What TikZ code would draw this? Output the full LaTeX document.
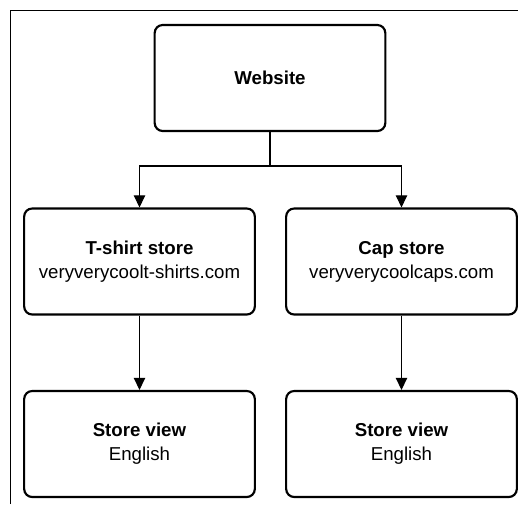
\documentclass[tikz,border=0pt]{standalone}
\usepackage{fontspec}
\setmainfont{Liberation Sans}
\usetikzlibrary{arrows.meta}

\begin{document}
\begin{tikzpicture}[x=0.75pt, y=-0.75pt,
  box/.style={draw=black, line width=1.6pt, rounded corners=6pt, minimum width=173pt, minimum height=79.5pt, align=center, font=\fontsize{14}{18}\selectfont},
  conn/.style={draw=black, line width=0.8pt},
  arr/.style={conn, -{Triangle[length=9pt, width=8.5pt]}}]
\useasboundingbox (0,0) rectangle (518,504);
\draw[black, line width=1pt] (10.5,504) -- (10.5,10.5) -- (518,10.5);
\node[box] (web) at (270,78) {\textbf{Website}};
\node[box] (tshirt) at (139.5,261.5) {\textbf{T-shirt store}\\veryverycoolt-shirts.com};
\node[box] (caps) at (401.5,261.5) {\textbf{Cap store}\\veryverycoolcaps.com};
\node[box] (viewa) at (139.5,444) {\textbf{Store view}\\English};
\node[box] (viewb) at (401.5,444) {\textbf{Store view}\\English};
\coordinate (fork) at (270,166);
\draw[conn] (web.south) -- (fork);
\draw[arr] (fork) -| (tshirt.north);
\draw[arr] (fork) -| (caps.north);
\draw[arr] (tshirt.south) -- (viewa.north);
\draw[arr] (caps.south) -- (viewb.north);
\end{tikzpicture}
\end{document}
